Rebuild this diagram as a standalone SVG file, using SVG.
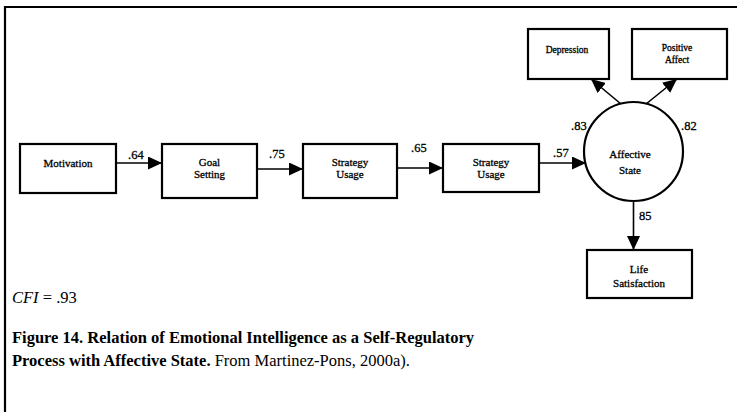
<svg xmlns="http://www.w3.org/2000/svg" width="737" height="412" viewBox="0 0 737 412">
  <style>
    .box { fill: #fff; stroke: #000; stroke-width: 2.2; }
    .edge { fill: none; stroke: #000; stroke-width: 1.6; }
    .serif { font-family: "Liberation Serif", "Times New Roman", Times, "DejaVu Serif", serif; fill: #000; }
    .lbl { font-size: 11px; text-anchor: middle; stroke: #000; stroke-width: 0.3; }
    .sm { font-size: 9.5px; }
    .coef { font-size: 12.5px; stroke: #000; stroke-width: 0.3; }
    .cap { font-size: 16.5px; }
  </style>
  <defs>
    <marker id="arrow" markerUnits="userSpaceOnUse" markerWidth="14" markerHeight="13" refX="14" refY="6.5" orient="auto">
      <path d="M0,0 L14,6.5 L0,13 z" fill="#000"/>
    </marker>
  </defs>

  <rect width="737" height="412" fill="#fff"/>
  <!-- frame: top and left rules -->
  <path d="M5,412 V7 H737" fill="none" stroke="#000" stroke-width="2.2"/>

  <g id="connectors">
    <path class="edge" d="M116,163 H162" marker-end="url(#arrow)"/>
    <path class="edge" d="M257,169 H303" marker-end="url(#arrow)"/>
    <path class="edge" d="M397,168 H443" marker-end="url(#arrow)"/>
    <path class="edge" d="M539,163 H586" marker-end="url(#arrow)"/>
    <path class="edge" d="M621,104 L591,79" marker-end="url(#arrow)"/>
    <path class="edge" d="M646,104 L677,79" marker-end="url(#arrow)"/>
    <path class="edge" d="M633.5,201 V250" marker-end="url(#arrow)"/>
  </g>

  <g id="motivation">
    <rect class="box" x="20" y="144" width="96" height="49"/>
    <text class="serif lbl" x="68" y="167">Motivation</text>
  </g>
  <g id="goal-setting">
    <rect class="box" x="162" y="144" width="95" height="54"/>
    <text class="serif lbl" x="209.5" y="166">Goal</text>
    <text class="serif lbl" x="209.5" y="178">Setting</text>
  </g>
  <g id="strategy-usage-1">
    <rect class="box" x="303" y="144" width="94" height="54"/>
    <text class="serif lbl" x="350" y="166">Strategy</text>
    <text class="serif lbl" x="350" y="178">Usage</text>
  </g>
  <g id="strategy-usage-2">
    <rect class="box" x="443" y="144" width="96" height="48"/>
    <text class="serif lbl" x="491" y="166">Strategy</text>
    <text class="serif lbl" x="491" y="178">Usage</text>
  </g>
  <g id="affective-state">
    <circle class="box" cx="633.5" cy="151.5" r="49.5"/>
    <text class="serif lbl" x="630" y="158">Affective</text>
    <text class="serif lbl" x="630" y="174">State</text>
  </g>
  <g id="depression">
    <rect class="box" x="528" y="29" width="81" height="50"/>
    <text class="serif lbl sm" x="567" y="53">Depression</text>
  </g>
  <g id="positive-affect">
    <rect class="box" x="632" y="29" width="95" height="50"/>
    <text class="serif lbl sm" x="677" y="51">Positive</text>
    <text class="serif lbl sm" x="677" y="63">Affect</text>
  </g>
  <g id="life-satisfaction">
    <rect class="box" x="587" y="250" width="105" height="48"/>
    <text class="serif lbl" x="639" y="273">Life</text>
    <text class="serif lbl" x="639" y="287">Satisfaction</text>
  </g>

  <!-- path coefficients, drawn last so they sit above the shapes -->
  <g id="coefficients" class="serif coef">
    <text x="128" y="159">.64</text>
    <text x="269" y="158">.75</text>
    <text x="411" y="152">.65</text>
    <text x="553" y="157">.57</text>
    <text x="571" y="130">.83</text>
    <text x="681" y="130">.82</text>
    <text x="639" y="220">85</text>
  </g>

  <g id="notes" class="serif">
    <text class="cap" x="12" y="303" font-size="20"><tspan font-style="italic">CFI</tspan> = .93</text>
    <text class="cap" x="12" y="343" font-weight="bold">Figure 14.  Relation of Emotional Intelligence as a Self-Regulatory</text>
    <text class="cap" x="12" y="366"><tspan font-weight="bold">Process with Affective State.</tspan> From Martinez-Pons, 2000a).</text>
  </g>
</svg>
